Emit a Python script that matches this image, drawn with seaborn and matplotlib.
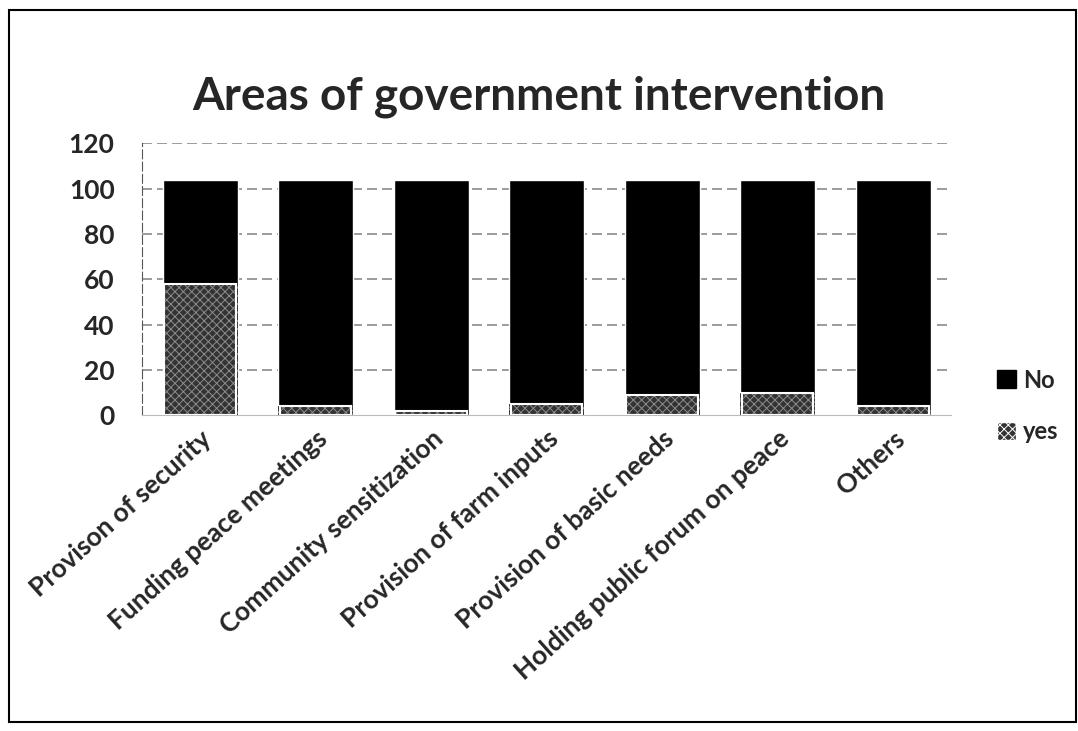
import matplotlib
matplotlib.use("Agg")
import matplotlib.pyplot as plt
import seaborn as sns
import pandas as pd
from matplotlib.patches import Patch, Rectangle

# data
categories = ["Provison of security", "Funding peace meetings", "Community sensitization",
              "Provision of farm inputs", "Provision of basic needs",
              "Holding public forum on peace", "Others"]
yes_vals = [58, 4, 2, 5, 9, 10, 4]
no_vals = [46, 100, 102, 99, 95, 94, 100]
y_ticks = [0, 20, 40, 60, 80, 100, 120]

df = pd.DataFrame({"area": categories, "yes": yes_vals, "No": no_vals})
df["total"] = df["yes"] + df["No"]

sns.set_style("white")
plt.rcParams["font.family"] = ["Lato", "DejaVu Sans"]
plt.rcParams["hatch.linewidth"] = 0.7

fig = plt.figure(figsize=(10.78, 7.31), dpi=100)
ax = fig.add_axes([0.132, 0.432, 0.750, 0.372])

# stacked bars: total drawn in black, yes segment on top of it
sns.barplot(data=df, x="area", y="total", color="black", width=0.65,
            saturation=1, ax=ax, zorder=3)
sns.barplot(data=df, x="area", y="yes", color="#333333", width=0.65,
            saturation=1, ax=ax, hatch="xxxx", edgecolor="#8c8c8c",
            linewidth=0, zorder=4)
# thin white outline of the yes segments
sns.barplot(data=df, x="area", y="yes", color="white", width=0.62, fill=False,
            linewidth=1.5, ax=ax, zorder=5)

ax.set_ylim(0, 120)
ax.set_xlim(-0.5, 6.5)
ax.set_yticks(y_ticks)
ax.set_yticklabels([str(t) for t in y_ticks], fontsize=19, fontweight="bold")
ax.set_xticks(range(len(categories)))
ax.set_xticklabels(categories, rotation=42, ha="right", rotation_mode="anchor",
                   fontsize=19, fontweight="bold")
ax.tick_params(axis="y", length=0, pad=20)
ax.tick_params(axis="x", length=0, pad=8)
ax.set_xlabel("")
ax.set_ylabel("")

for t in y_ticks[1:]:
    ax.axhline(t, color="#8a8a8a", lw=1.2, ls=(0, (6, 3)), zorder=1)
for s in ["top", "right"]:
    ax.spines[s].set_visible(False)
ax.spines["left"].set_color("#555555")
ax.spines["left"].set_linestyle((0, (8, 3)))
ax.spines["bottom"].set_color("#bbbbbb")

fig.text(0.5, 0.868, "Areas of government intervention", ha="center", va="center",
         fontsize=33, fontweight="bold")

handles = [Patch(facecolor="black", edgecolor="black", label="No"),
           Patch(facecolor="#333333", edgecolor="white", hatch="xxxx", label="yes")]
fig.legend(handles=handles, loc="center left", bbox_to_anchor=(0.905, 0.445),
           frameon=False, labelspacing=1.2, handlelength=0.8, handleheight=0.8,
           handletextpad=0.3, prop={"family": "Lato", "weight": "bold", "size": 17})

# frame around the scanned chart
fig.patches.append(Rectangle((0.008, 0.012), 0.99, 0.975, transform=fig.transFigure,
                             fill=False, edgecolor="black", lw=1.5))

fig.savefig("out.png", dpi=100, facecolor="white")
